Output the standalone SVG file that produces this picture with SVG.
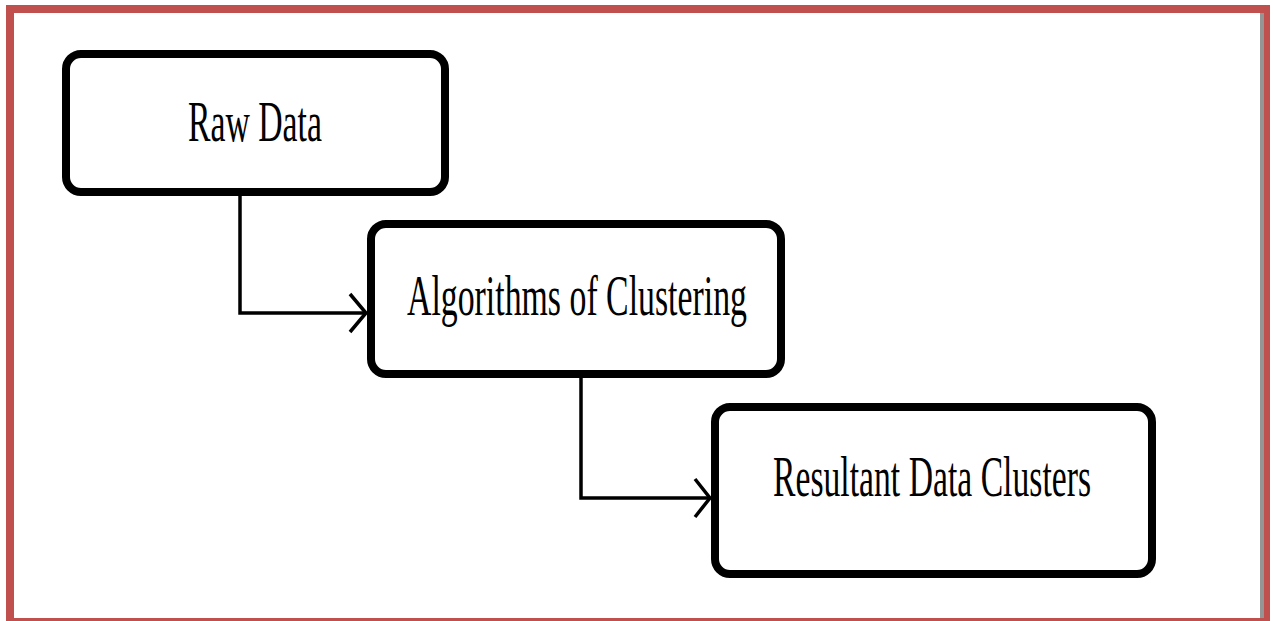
<svg xmlns="http://www.w3.org/2000/svg" width="1273" height="621" viewBox="0 0 1273 621">
<style>
.box{fill:#fff;stroke:#000;stroke-width:8}
.lbl{font-family:"Liberation Serif","Times New Roman",serif;font-size:58px;fill:#000}
.conn{fill:none;stroke:#000;stroke-width:3.5;stroke-linejoin:miter}
.head{fill:none;stroke:#000;stroke-width:3.5;stroke-linecap:butt}
</style>
<rect x="0" y="0" width="1273" height="621" fill="#fff"/>
<g id="frame">
<rect x="6" y="5" width="1264" height="620" fill="#C0504D"/>
<rect x="14" y="13" width="1250" height="605" fill="#fff"/>
<rect x="1260" y="13" width="4" height="605" fill="#959595"/>
</g>
<g id="connectors">
<polyline class="conn" points="240,196 240,313 366,313"/>
<polyline class="head" points="350,294 366,313 350,332"/>
<polyline class="conn" points="581,378 581,498 710,498"/>
<polyline class="head" points="695,479 710,498 695,517"/>
</g>
<g id="raw-data">
<rect class="box" x="66" y="54" width="379" height="138" rx="15"/>
<text class="lbl" transform="scale(0.58,1)" x="324.1" y="141" textLength="231" lengthAdjust="spacingAndGlyphs">Raw Data</text>
</g>
<g id="algorithms">
<rect class="box" x="371" y="224" width="410" height="150" rx="15"/>
<text class="lbl" transform="scale(0.58,1)" x="701.7" y="315" textLength="586.2" lengthAdjust="spacingAndGlyphs">Algorithms of Clustering</text>
</g>
<g id="resultant">
<rect class="box" x="715" y="407" width="437" height="167" rx="15"/>
<text class="lbl" transform="scale(0.58,1)" x="1332.8" y="496" textLength="548.3" lengthAdjust="spacingAndGlyphs">Resultant Data Clusters</text>
</g>
</svg>
